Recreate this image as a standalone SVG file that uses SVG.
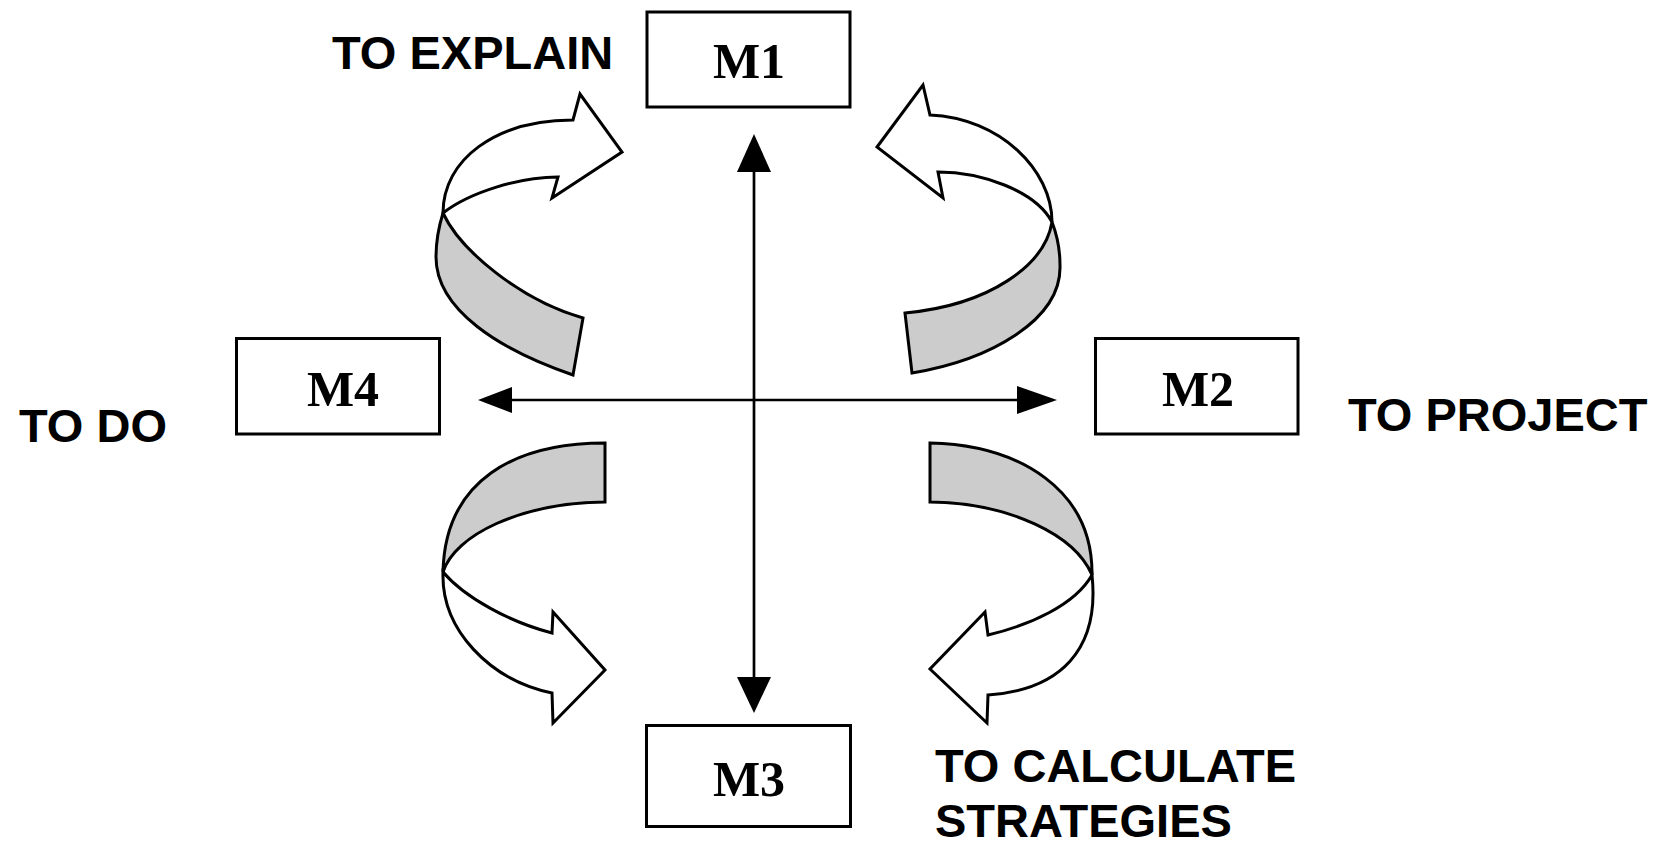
<svg xmlns="http://www.w3.org/2000/svg" width="1667" height="845" viewBox="0 0 1667 845">
<style>
.box{fill:#fff;stroke:#000;stroke-width:3}
.mlab{font-family:"Liberation Serif","Times New Roman",serif;font-weight:bold;font-size:50px;fill:#000;text-anchor:middle}
.lab{font-family:"Liberation Sans",Arial,sans-serif;font-weight:bold;font-size:47px;fill:#000}
.axis{stroke:#000;stroke-width:2.7;fill:none}
.head{fill:#000;stroke:none}
.band{fill:#fff;stroke:#000;stroke-width:3;stroke-linejoin:miter}
.side{fill:#cccccc;stroke:#000;stroke-width:3;stroke-linejoin:miter}
</style>
<rect width="1667" height="845" fill="#fff"/>
<g id="connectors">
<line class="axis" x1="754" y1="150" x2="754" y2="695"/>
<line class="axis" x1="495" y1="400" x2="1040" y2="400"/>
<polygon class="head" points="754,134 771,172 737,172"/>
<polygon class="head" points="754,713 771,677 737,677"/>
<polygon class="head" points="478,400 512,387 512,413"/>
<polygon class="head" points="1057,400 1017,386 1017,414"/>
</g>
<g id="curved-arrows">
<g id="arrow-tl">
<path class="side" d="M443,213 C460,250 520,300 583,318 L573,375 C500,350 436,310 436,257 C436,240 439,226 443,213 Z"/>
<path class="band" d="M443,213 C443,160 495,120 573,120 L580,94 L622,152 L552,198 L558,177 C520,177 470,192 443,213 Z"/>
</g>
<g id="arrow-tr">
<path class="side" d="M1052,222 C1045,265 990,305 905,313 L912,373 C990,360 1062,320 1060,265 C1060,250 1057,235 1052,222 Z"/>
<path class="band" d="M1052,222 C1052,170 1000,118 930,115 L923,85 L877,147 L943,198 L938,172 C980,172 1035,190 1052,222 Z"/>
</g>
<g id="arrow-bl">
<path class="side" d="M443,572 C455,535 520,503 605,502 L605,443 C515,443 445,480 443,572 Z"/>
<path class="band" d="M443,572 C441,630 490,680 552,693 L553,723 L605,670 L553,612 L552,633 C510,622 465,598 443,572 Z"/>
</g>
<g id="arrow-br">
<path class="side" d="M1092,575 C1075,535 1010,503 930,502 L930,443 C1020,445 1093,490 1092,575 Z"/>
<path class="band" d="M1092,575 C1100,650 1060,690 988,695 L987,723 L930,669 L985,612 L988,635 C1030,625 1075,605 1092,575 Z"/>
</g>
</g>
<g id="node-m1">
<rect class="box" x="647" y="12" width="203" height="95"/>
<text class="mlab" x="749" y="78">M1</text>
</g>
<g id="node-m2">
<rect class="box" x="1095.5" y="338.5" width="202.5" height="95.5"/>
<text class="mlab" x="1198" y="406">M2</text>
</g>
<g id="node-m3">
<rect class="box" x="646.5" y="725.5" width="204" height="101"/>
<text class="mlab" x="749" y="796">M3</text>
</g>
<g id="node-m4">
<rect class="box" x="236.5" y="338.5" width="203" height="95.5"/>
<text class="mlab" x="343" y="406">M4</text>
</g>
<g id="labels">
<text class="lab" x="332" y="69">TO EXPLAIN</text>
<text class="lab" x="19" y="442">TO DO</text>
<text class="lab" x="1348" y="431">TO PROJECT</text>
<text class="lab" x="935" y="782">TO CALCULATE</text>
<text class="lab" x="935" y="837">STRATEGIES</text>
</g>
</svg>
